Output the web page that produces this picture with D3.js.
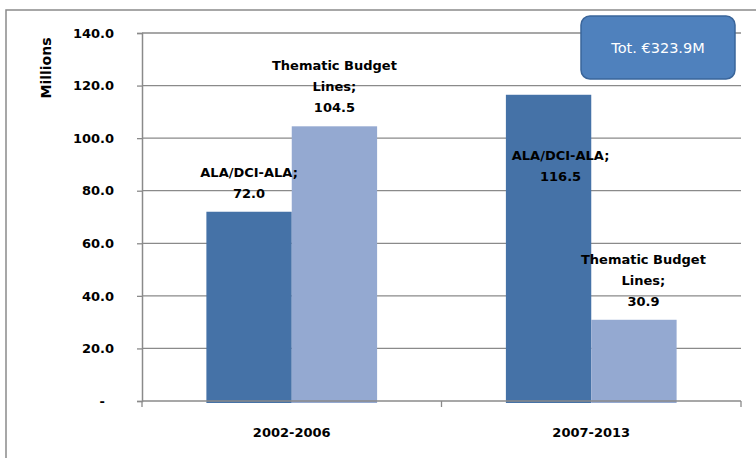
<!DOCTYPE html>
<html>
<head>
<meta charset="utf-8">
<script src="https://cdn.jsdelivr.net/npm/d3@7"></script>
<style>
  html, body { margin: 0; padding: 0; background: #fff; }
  svg { display: block; }
</style>
</head>
<body>
<script>
// data
const periods = ['2002-2006', '2007-2013'];
const seriesNames = ['ALA/DCI-ALA', 'Thematic Budget Lines'];
const seriesLabelLines = [['ALA/DCI-ALA;'], ['Thematic Budget', 'Lines;']];
const alaValues = [72.0, 116.5];
const thematicValues = [104.5, 30.9];
const yTicks = [0, 20, 40, 60, 80, 100, 120, 140];
const totalLabel = 'Tot. €323.9M';
const yTitle = 'Millions';

const width = 756;
const height = 458;
const colors = ['#4572A7', '#94A9D1'];
const gridColor = '#8a8a8a';
const font = 'DejaVu Sans, sans-serif';

// Excel moved two labels by hand
const labelNudge = {
    '2007-2013|ALA/DCI-ALA': [12, 100],
    '2007-2013|Thematic Budget Lines': [9.5, 0]
};

const rows = periods.map((p, i) => ({
    period: p,
    values: [alaValues[i], thematicValues[i]]
}));

const svg = d3.select('body').append('svg')
    .attr('width', width)
    .attr('height', height);

svg.append('rect').attr('width', width).attr('height', height).attr('fill', '#fff');

// chart area border (cut by the window on right and bottom)
svg.append('path')
    .attr('d', `M6,${height} V10 H${width}`)
    .attr('fill', 'none')
    .attr('stroke', gridColor)
    .attr('stroke-width', 1.5);

const plot = { left: 142, right: 741, top: 33, bottom: 401 };

const y = d3.scaleLinear().domain([0, 140]).range([plot.bottom, plot.top]);
const x0 = d3.scaleBand().domain(periods)
    .range([plot.left, plot.right])
    .paddingInner(0.43)
    .paddingOuter(0.215);
const x1 = d3.scaleBand().domain(seriesNames).range([0, x0.bandwidth()]);

// gridlines
svg.append('g').selectAll('line').data(yTicks.filter(d => d > 0)).enter()
    .append('line')
    .attr('x1', plot.left).attr('x2', plot.right)
    .attr('y1', d => y(d)).attr('y2', d => y(d))
    .attr('stroke', gridColor)
    .attr('stroke-width', 1.3);

// bars
const groups = svg.append('g').selectAll('g').data(rows).enter()
    .append('g')
    .attr('transform', d => `translate(${x0(d.period)},0)`);

groups.selectAll('rect').data(d => d.values.map((v, i) => ({ period: d.period, name: seriesNames[i], i, v }))).enter()
    .append('rect')
    .attr('x', d => x1(d.name))
    .attr('y', d => y(d.v))
    .attr('width', x1.bandwidth())
    .attr('height', d => y(0) - y(d.v) + 2)
    .attr('fill', d => colors[d.i]);

// y axis
const yAxis = d3.axisLeft(y)
    .tickValues(yTicks)
    .tickSize(5)
    .tickPadding(23)
    .tickFormat(d => d === 0 ? '-\u2007' : d.toFixed(1));

const yg = svg.append('g')
    .attr('transform', `translate(${plot.left},0)`)
    .call(yAxis);
yg.select('.domain').attr('stroke', gridColor).attr('stroke-width', 1.5);
yg.selectAll('.tick line').attr('stroke', gridColor).attr('stroke-width', 1.3);
yg.selectAll('.tick text')
    .attr('font-family', font)
    .attr('font-weight', 'bold')
    .attr('font-size', 13)
    .attr('fill', '#000');

// x axis line and category ticks
svg.append('line')
    .attr('x1', plot.left).attr('x2', plot.right)
    .attr('y1', y(0)).attr('y2', y(0))
    .attr('stroke', gridColor)
    .attr('stroke-width', 1.5);

const step = x0.step();
svg.append('g').selectAll('line').data(d3.range(periods.length + 1)).enter()
    .append('line')
    .attr('x1', d => plot.left + d * step).attr('x2', d => plot.left + d * step)
    .attr('y1', y(0)).attr('y2', y(0) + 6)
    .attr('stroke', gridColor)
    .attr('stroke-width', 1.3);

svg.append('g').selectAll('text').data(periods).enter()
    .append('text')
    .attr('x', d => x0(d) + x0.bandwidth() / 2)
    .attr('y', 437)
    .attr('text-anchor', 'middle')
    .attr('font-family', font)
    .attr('font-weight', 'bold')
    .attr('font-size', 13)
    .text(d => d);

// y title
svg.append('text')
    .attr('transform', 'translate(51,68) rotate(-90)')
    .attr('text-anchor', 'middle')
    .attr('font-family', font)
    .attr('font-weight', 'bold')
    .attr('font-size', 14)
    .text(yTitle);

// data labels
groups.each(function (row) {
    const g = d3.select(this);
    row.values.forEach((v, i) => {
        const name = seriesNames[i];
        const nudge = labelNudge[row.period + '|' + name] || [0, 0];
        const lines = seriesLabelLines[i].concat([v.toFixed(1)]);
        const cx = x1(name) + x1.bandwidth() / 2 + nudge[0];
        const lastBase = y(v) - 14 + nudge[1];
        g.append('text')
            .attr('text-anchor', 'middle')
            .attr('font-family', font)
            .attr('font-weight', 'bold')
            .attr('font-size', 13)
            .selectAll('tspan').data(lines).enter()
            .append('tspan')
            .attr('x', cx)
            .attr('y', (d, k) => lastBase - (lines.length - 1 - k) * 21)
            .text(d => d);
    });
});

// total box
const box = svg.append('g').attr('transform', 'translate(581,16)');
box.append('rect')
    .attr('width', 154).attr('height', 63)
    .attr('rx', 9)
    .attr('fill', '#4F81BD')
    .attr('stroke', '#3A659A')
    .attr('stroke-width', 1.5);
box.append('text')
    .attr('x', 77).attr('y', 37)
    .attr('text-anchor', 'middle')
    .attr('font-family', font)
    .attr('font-size', 14.5)
    .attr('fill', '#fff')
    .text(totalLabel);
</script>
</body>
</html>
